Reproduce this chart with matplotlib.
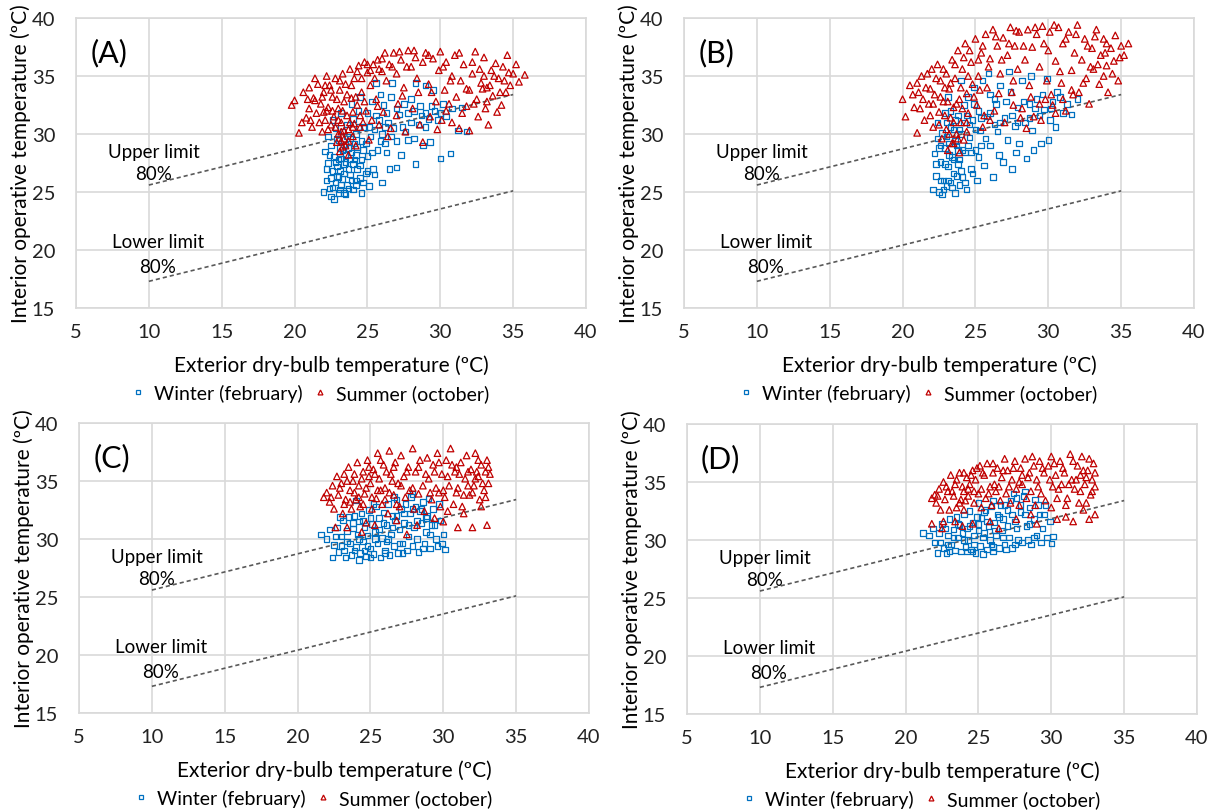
import numpy as np
import matplotlib
matplotlib.use("Agg")
import matplotlib.pyplot as plt
from matplotlib.lines import Line2D

plt.rcParams['font.family'] = ['Lato', 'DejaVu Sans']

# comfort limits (80% acceptability)
limit_x = [10, 35]
upper_y = [25.6, 33.4]
lower_y = [17.3, 25.1]

# (exterior, interior) points
a_winter = [(22.0,25.0),(22.1,28.5),(22.2,26.0),(22.3,27.5),(22.4,25.3),(22.5,24.6),(22.5,29.0),(22.6,26.8),(22.7,24.4),(22.7,28.0),(22.8,25.8),(22.9,27.2),(23.0,29.5),(23.0,26.3),(23.1,25.2),(23.1,28.8),(23.2,27.9),(23.3,30.2),(23.3,26.1),(23.4,24.9),(23.4,27.4),(23.5,29.1),(23.5,28.2),(23.6,25.6),(23.6,30.8),(23.7,27.0),(23.8,26.5),(23.8,29.6),(23.9,28.4),(24.0,25.2),(24.0,31.3),(24.1,27.8),(24.2,26.0),(24.2,30.0),(24.3,28.9),(24.4,32.0),(24.5,27.3),(24.6,29.4),(24.7,25.8),(24.8,30.6),(24.9,26.6),(25.0,31.8),(25.0,28.1),(25.1,25.5),(25.2,29.8),(25.3,32.8),(25.4,27.0),(25.5,30.4),(25.6,34.4),(25.7,28.6),(25.8,31.2),(26.0,25.8),(26.0,30.0),(26.1,32.5),(26.2,29.2),(26.4,31.0),(26.5,27.0),(26.6,33.2),(26.7,34.4),(26.8,30.5),(27.0,27.1),(27.0,29.4),(27.2,31.7),(27.3,28.2),(27.5,32.6),(27.6,30.2),(27.8,29.5),(28.0,31.0),(28.0,33.0),(28.2,29.6),(28.3,27.4),(28.3,34.4),(28.5,30.8),(28.7,31.6),(28.8,29.0),(29.0,34.2),(29.0,30.6),(29.2,31.3),(29.3,29.3),(29.5,33.8),(29.6,32.0),(29.8,31.2),(30.0,27.9),(30.0,31.8),(30.2,32.6),(30.4,31.5),(30.7,28.3),(30.8,32.2),(31.2,30.3),(31.5,32.3),(31.8,30.2),(23.2,31.8),(23.9,32.6),(24.5,33.2),(22.3,29.8),(22.8,30.5),(22.6,31.2),(23.5,24.8),(22.9,26.4),(24.6,24.9),(24.2,28.2),(25.5,26.5),(26.3,28.4),(25.9,33.4),
            (22.2,27.0),(22.4,28.2),(22.5,26.2),(22.6,25.4),(22.8,27.6),(22.9,29.6),(23.0,24.9),(23.0,27.8),(23.1,26.8),(23.2,25.6),(23.3,28.6),(23.4,26.6),(23.5,27.6),(23.6,29.8),(23.7,25.3),(23.7,28.8),(23.8,27.8),(23.9,26.0),(24.0,27.4),(24.1,29.2),(24.2,25.6),(24.3,27.0),(24.4,30.6),(24.5,26.2),(24.7,28.6),(24.9,29.2),(25.1,30.6),(25.3,28.4),(25.6,31.6),(25.9,29.4),(26.3,31.8),(26.6,29.8),(27.0,32.2),(27.4,30.6),(27.8,31.8),(28.2,32.0),(28.6,32.4),(29.0,31.8),(29.4,32.4),(26.2,30.6),(25.0,26.8),(24.6,27.8)]
a_summer = [(19.8,32.5),(20.0,32.9),(20.3,30.1),(20.6,33.6),(20.8,31.4),(21.0,32.2),(21.0,34.0),(21.2,30.6),(21.3,33.1),(21.5,31.8),(21.6,34.3),(21.8,32.6),(21.9,30.2),(22.0,33.6),(22.1,31.2),(22.2,35.0),(22.3,32.3),(22.4,34.2),(22.5,30.8),(22.6,33.2),(22.7,31.5),(22.8,34.8),(22.9,29.3),(23.0,32.2),(23.0,30.0),(23.1,28.5),(23.1,33.8),(23.2,29.4),(23.2,31.0),(23.3,35.2),(23.4,30.3),(23.4,32.8),(23.5,29.0),(23.5,34.3),(23.6,31.6),(23.7,30.4),(23.8,35.6),(23.9,33.1),(24.0,29.8),(24.0,31.9),(24.1,34.8),(24.3,32.5),(24.4,35.9),(24.5,30.6),(24.6,33.6),(24.8,36.2),(24.9,32.0),(25.0,35.3),(25.1,29.5),(25.2,34.2),(25.3,31.2),(25.4,36.0),(25.6,33.0),(25.8,35.6),(26.0,36.5),(26.1,31.9),(26.3,34.6),(26.5,36.0),(26.6,30.5),(26.8,37.0),(27.0,35.2),(27.1,32.6),(27.3,36.4),(27.5,34.0),(27.6,30.2),(27.8,37.2),(28.0,35.8),(28.1,32.2),(28.3,36.6),(28.5,33.6),(28.6,30.8),(28.8,36.2),(29.0,37.0),(29.2,34.3),(29.3,31.5),(29.5,36.5),(29.7,32.8),(29.9,35.5),(30.0,37.1),(30.1,31.2),(30.3,33.8),(30.4,36.2),(30.6,32.6),(30.8,35.0),(31.0,36.8),(31.1,33.2),(31.3,30.5),(31.4,34.6),(31.6,36.0),(31.8,32.4),(32.0,33.8),(32.0,30.3),(32.2,35.2),(32.4,37.1),(32.5,33.0),(32.6,31.5),(32.8,34.4),(33.0,36.6),(33.1,32.2),(33.2,34.0),(33.3,30.8),(33.5,35.5),(33.6,33.3),(33.8,36.1),(33.9,31.9),(34.0,34.8),(34.2,32.5),(34.3,35.8),(34.5,33.6),(34.6,36.8),(34.8,34.2),(35.0,35.2),(35.2,36.0),(35.4,34.5),(35.8,35.1),(24.2,29.0),(23.7,28.2),(24.7,31.0),(25.7,32.4),(26.4,29.8),(27.4,33.3),(28.4,34.8),(29.4,33.6),(30.7,34.6),(31.8,33.9),(32.9,33.9),(28.8,29.3),(30.4,32.0),(22.0,31.9),(21.4,32.9),
            (20.5,31.0),(20.9,33.0),(21.1,31.2),(21.4,34.8),(21.7,31.0),(21.9,33.2),(22.1,34.2),(22.2,32.0),(22.3,30.4),(22.5,33.8),(22.6,32.0),(22.8,30.6),(22.9,33.0),(23.0,31.2),(23.1,34.6),(23.2,30.2),(23.3,32.0),(23.4,29.6),(23.6,33.4),(23.7,29.4),(23.8,31.0),(23.9,34.2),(24.0,30.6),(24.2,33.2),(24.3,35.4),(24.5,31.6),(24.6,34.8),(24.8,32.8),(25.0,36.0),(25.2,35.5),(25.5,34.8),(25.7,36.4),(26.0,35.4),(26.2,37.0),(26.7,35.8),(27.2,37.1),(27.7,35.8),(28.2,37.2),(29.2,36.8),(30.2,35.8),(31.3,37.0),(32.2,36.2),(32.7,35.6),(33.0,35.0),(33.4,34.2),(33.7,35.0),(34.1,33.6),(34.4,34.6),(34.7,35.3),(33.2,32.8),(32.3,32.6),(31.5,31.8),(30.8,31.0),(29.8,30.4),(25.8,30.8),(27.0,31.6),(24.1,30.9),(23.3,28.9)]

b_winter = [(22.1,25.2),(22.2,28.3),(22.3,26.4),(22.4,29.6),(22.5,25.0),(22.6,27.6),(22.7,24.8),(22.7,30.1),(22.8,26.0),(22.9,28.8),(23.0,25.5),(23.0,31.0),(23.1,27.2),(23.2,29.2),(23.3,25.8),(23.3,32.0),(23.4,28.0),(23.5,26.6),(23.5,30.4),(23.6,24.9),(23.7,29.0),(23.8,27.4),(23.8,31.6),(23.9,25.6),(24.0,30.0),(24.1,26.3),(24.2,32.5),(24.3,28.4),(24.4,25.2),(24.5,33.2),(24.6,29.7),(24.7,27.0),(24.8,31.2),(24.9,34.0),(25.0,28.6),(25.1,26.0),(25.2,32.0),(25.3,30.3),(25.5,34.6),(25.6,27.3),(25.8,31.5),(26.0,33.4),(26.0,29.0),(26.2,26.3),(26.4,32.6),(26.5,30.2),(26.7,34.2),(26.9,27.6),(27.0,31.4),(27.2,29.5),(27.4,33.6),(27.5,27.0),(27.7,30.7),(27.9,32.3),(28.0,29.2),(28.2,34.6),(28.4,31.0),(28.5,27.9),(28.7,32.6),(28.9,30.3),(29.0,28.6),(29.2,33.0),(29.4,31.6),(29.5,29.2),(29.7,32.1),(29.9,34.8),(30.0,29.5),(30.1,31.2),(30.3,32.8),(30.5,30.6),(30.8,33.2),(31.0,31.8),(31.3,32.6),(31.6,31.7),(32.0,33.0),(22.4,31.0),(23.1,33.2),(24.0,34.6),(22.9,31.8),(24.4,31.6),(25.4,29.0),(26.6,28.2),(27.8,28.4),(26.3,30.8),(24.7,28.4),(23.9,27.8),(22.6,29.0),(25.9,35.2),(28.8,35.0),(27.3,35.4),
            (22.3,27.4),(22.5,28.8),(22.6,26.0),(22.8,25.2),(22.9,27.4),(23.0,29.8),(23.1,26.0),(23.2,28.2),(23.3,30.6),(23.4,25.4),(23.5,27.8),(23.6,29.4),(23.7,26.4),(23.8,28.6),(23.9,30.4),(24.0,26.8),(24.1,28.6),(24.2,31.0),(24.3,25.8),(24.5,29.0),(24.6,30.8),(24.8,26.6),(25.0,30.4),(25.2,28.0),(25.4,31.4),(25.7,29.6),(26.0,31.8),(26.3,33.0),(26.7,31.0),(27.1,32.8),(27.5,31.6),(27.9,31.0),(28.3,32.8),(28.7,31.4),(29.1,32.2),(29.6,33.4),(30.2,32.2),(30.6,33.6),(24.9,32.6),(23.6,31.2)]
b_summer = [(20.0,33.0),(20.2,31.5),(20.5,34.2),(20.8,32.3),(21.0,30.1),(21.1,33.6),(21.3,35.0),(21.5,31.2),(21.6,34.0),(21.8,32.6),(22.0,35.6),(22.1,30.6),(22.2,33.4),(22.4,36.0),(22.5,31.9),(22.6,34.6),(22.7,29.6),(22.8,32.8),(23.0,35.2),(23.0,30.4),(23.1,28.6),(23.2,33.9),(23.3,31.4),(23.4,36.4),(23.5,29.2),(23.5,32.3),(23.6,34.8),(23.7,30.0),(23.8,37.2),(23.9,33.0),(24.0,31.0),(24.1,35.6),(24.2,29.5),(24.3,37.8),(24.4,33.5),(24.5,31.8),(24.7,36.2),(24.8,34.3),(25.0,38.2),(25.1,32.5),(25.2,35.0),(25.4,37.0),(25.5,30.6),(25.7,38.6),(25.8,34.0),(26.0,36.5),(26.2,39.0),(26.3,32.0),(26.5,37.6),(26.7,35.2),(26.9,38.3),(27.0,31.0),(27.2,36.8),(27.4,39.2),(27.5,33.6),(27.7,37.6),(27.9,35.6),(28.0,38.8),(28.2,32.2),(28.4,36.4),(28.6,39.0),(28.7,34.2),(28.9,37.5),(29.0,31.5),(29.2,38.6),(29.4,35.8),(29.6,39.3),(29.8,33.0),(30.0,37.2),(30.1,38.8),(30.3,32.5),(30.5,36.3),(30.7,39.2),(30.9,34.4),(31.0,37.8),(31.2,32.0),(31.4,38.8),(31.6,35.5),(31.8,37.0),(32.0,39.4),(32.1,33.6),(32.3,36.4),(32.5,38.2),(32.6,34.8),(32.8,32.6),(33.0,37.4),(33.1,35.6),(33.3,39.0),(33.5,34.3),(33.6,36.8),(33.8,38.2),(34.0,35.9),(34.1,33.6),(34.3,37.4),(34.5,36.3),(34.6,38.5),(34.8,34.6),(35.0,37.6),(35.2,36.8),(35.5,37.8),(23.9,28.4),(24.4,30.2),(25.6,31.6),(26.6,33.5),(27.6,34.6),(28.8,33.2),(29.9,34.6),(30.8,35.4),(31.7,33.4),(32.9,35.8),(33.9,37.0),(28.5,30.5),(29.5,31.2),(30.5,31.8),(22.9,34.0),(21.9,33.9),
            (20.7,33.4),(21.0,34.4),(21.2,32.2),(21.4,33.0),(21.7,35.2),(21.9,31.6),(22.1,32.6),(22.3,34.8),(22.5,30.8),(22.6,33.2),(22.8,35.6),(22.9,31.6),(23.1,32.8),(23.2,30.0),(23.3,34.4),(23.4,29.2),(23.5,31.0),(23.6,36.0),(23.7,32.6),(23.8,29.6),(24.0,34.0),(24.1,32.2),(24.2,36.6),(24.4,31.0),(24.5,35.0),(24.6,37.2),(24.9,33.2),(25.2,36.4),(25.5,37.6),(25.9,35.8),(26.4,38.4),(26.8,36.4),(27.3,37.8),(27.8,38.9),(28.3,37.6),(29.1,39.2),(29.7,37.8),(30.4,39.4),(31.2,38.2),(31.9,38.6),(32.7,37.6),(33.2,38.4),(34.0,37.8),(34.4,35.2),(34.9,36.6),(33.8,35.0),(33.4,36.0),(32.4,34.4),(31.6,33.8),(31.0,33.0),(30.2,33.4),(29.4,32.6),(28.1,31.4),(27.6,32.5),(26.0,31.2),(25.3,33.8)]

c_winter = [(21.6,30.4),(22.0,30.0),(22.2,30.8),(22.4,28.4),(22.5,29.5),(22.7,31.0),(22.8,28.9),(23.0,30.2),(23.1,31.6),(23.2,29.0),(23.3,28.4),(23.4,30.7),(23.5,31.9),(23.6,29.6),(23.7,28.6),(23.8,30.9),(23.9,32.0),(24.0,29.3),(24.1,30.4),(24.2,31.5),(24.3,28.8),(24.4,32.2),(24.5,29.8),(24.6,31.0),(24.7,28.5),(24.8,30.3),(24.9,32.5),(25.0,29.2),(25.1,31.3),(25.2,28.7),(25.3,30.6),(25.4,32.8),(25.5,29.6),(25.6,31.8),(25.7,28.4),(25.8,30.1),(25.9,32.3),(26.0,29.0),(26.1,31.2),(26.2,33.0),(26.3,28.6),(26.4,30.4),(26.5,32.0),(26.6,29.4),(26.7,31.6),(26.8,33.4),(26.9,28.8),(27.0,30.8),(27.1,32.6),(27.2,29.6),(27.3,31.4),(27.4,33.0),(27.5,29.0),(27.6,30.2),(27.7,32.2),(27.8,33.6),(27.9,29.4),(28.0,31.0),(28.1,32.8),(28.2,30.0),(28.3,28.9),(28.4,32.4),(28.5,31.4),(28.6,33.2),(28.7,29.6),(28.8,30.6),(28.9,32.0),(29.0,33.5),(29.1,29.2),(29.2,31.2),(29.3,32.6),(29.5,30.0),(29.6,29.4),(29.7,33.0),(29.8,31.6),(29.9,29.6),(30.0,30.4),(30.1,29.1),(25.2,33.0),(24.0,33.3),(22.9,31.9),(26.6,33.6),(27.9,33.9),(24.6,29.0),(23.9,29.0),(26.1,29.8),
            (22.6,30.2),(23.0,29.4),(23.4,29.8),(23.8,31.4),(24.2,30.0),(24.5,31.6),(24.8,29.4),(25.0,31.8),(25.3,30.0),(25.6,30.8),(25.9,31.4),(26.2,30.0),(26.5,31.0),(26.8,32.0),(27.0,29.6),(27.3,32.2),(27.6,31.2),(27.9,32.6),(28.2,31.6),(28.5,32.6),(28.8,31.8),(29.1,30.4),(29.4,31.2),(26.0,28.8),(27.2,28.8),(28.6,29.2),(25.0,28.4),(24.2,28.2)]
c_summer = [(21.8,33.6),(22.0,34.0),(22.2,33.2),(22.4,34.6),(22.5,32.6),(22.7,35.4),(22.8,33.8),(23.0,34.8),(23.1,32.2),(23.2,35.6),(23.3,33.4),(23.5,36.2),(23.6,34.2),(23.7,32.6),(23.8,35.0),(24.0,33.4),(24.1,36.6),(24.2,34.6),(24.3,32.8),(24.5,35.8),(24.6,33.9),(24.7,31.4),(24.8,36.8),(25.0,34.8),(25.1,32.6),(25.2,36.0),(25.4,33.5),(25.5,37.4),(25.6,35.2),(25.8,33.0),(25.9,36.4),(26.0,34.4),(26.2,32.2),(26.3,37.6),(26.4,35.6),(26.6,33.8),(26.7,36.6),(26.9,34.8),(27.0,32.8),(27.1,37.2),(27.3,35.4),(27.4,33.6),(27.6,36.2),(27.7,34.2),(27.9,37.8),(28.0,32.6),(28.1,35.8),(28.3,33.9),(28.4,36.8),(28.6,34.6),(28.7,32.4),(28.9,37.0),(29.0,35.2),(29.2,33.4),(29.3,36.4),(29.5,34.4),(29.6,37.4),(29.8,32.8),(29.9,35.6),(30.0,31.5),(30.1,33.6),(30.2,36.8),(30.4,34.6),(30.5,37.8),(30.7,33.0),(30.8,35.8),(31.0,31.0),(31.0,34.4),(31.2,36.6),(31.3,32.8),(31.5,35.2),(31.6,37.2),(31.8,33.8),(31.9,36.0),(32.0,31.0),(32.1,34.6),(32.2,37.4),(32.4,35.4),(32.5,33.4),(32.6,36.4),(32.8,34.2),(32.9,35.8),(33.0,31.2),(33.0,36.8),(33.1,34.8),(33.2,35.6),(23.4,31.0),(24.4,30.6),(25.3,31.2),(26.8,31.6),(28.2,31.2),(29.4,31.8),(27.5,30.4),(22.6,31.0),(25.7,34.2),(26.5,35.0),(24.9,35.4),(23.9,34.0),(29.7,34.0),(30.9,36.2),(31.7,34.6),(32.3,35.8),
            (22.3,33.6),(22.9,34.4),(23.2,33.0),(23.4,35.0),(23.6,33.2),(23.9,35.6),(24.2,33.6),(24.4,35.2),(24.5,33.0),(24.7,34.4),(24.9,36.2),(25.1,33.6),(25.3,35.6),(25.5,34.2),(25.7,36.8),(26.0,33.4),(26.1,35.8),(26.3,34.0),(26.6,36.2),(26.8,33.0),(27.1,34.6),(27.5,35.8),(27.9,34.4),(28.3,36.2),(28.8,35.6),(29.1,34.0),(29.4,35.8),(29.7,36.6),(30.0,34.2),(30.3,35.4),(30.6,36.4),(30.9,34.0),(31.1,35.6),(31.4,33.8),(31.7,35.8),(32.0,34.0),(32.2,35.2),(32.4,36.8),(32.7,34.8),(32.9,33.6),(33.1,36.2),(30.3,32.4),(31.4,32.2),(32.6,32.8)]

d_winter = [(21.2,30.6),(21.6,30.4),(21.9,31.0),(22.0,29.8),(22.2,28.9),(22.3,30.6),(22.5,31.4),(22.6,29.3),(22.8,28.9),(22.9,30.4),(23.0,31.8),(23.1,29.6),(23.3,30.9),(23.4,29.1),(23.5,32.0),(23.6,30.2),(23.7,31.3),(23.8,29.0),(23.9,30.6),(24.0,32.2),(24.1,29.4),(24.2,31.0),(24.3,30.0),(24.4,32.5),(24.5,29.2),(24.6,31.5),(24.7,30.4),(24.8,28.9),(24.9,32.0),(25.0,30.8),(25.1,29.5),(25.2,31.9),(25.3,28.8),(25.4,30.6),(25.5,32.6),(25.6,29.2),(25.7,31.2),(25.8,30.0),(25.9,32.9),(26.0,29.0),(26.1,31.5),(26.2,30.4),(26.3,32.2),(26.4,29.3),(26.5,33.0),(26.6,30.8),(26.7,31.8),(26.8,29.6),(27.0,32.6),(27.1,30.2),(27.2,33.4),(27.3,29.3),(27.5,31.6),(27.6,33.6),(27.7,30.0),(27.9,32.4),(28.0,29.8),(28.1,33.8),(28.3,31.2),(28.4,30.0),(28.5,32.8),(28.6,29.6),(28.8,31.8),(28.9,33.5),(29.0,30.4),(29.2,32.2),(29.3,29.8),(29.4,31.0),(29.6,33.0),(29.7,30.2),(29.9,31.6),(30.0,29.7),(30.1,30.3),(23.0,29.0),(24.2,29.0),(26.0,33.4),(27.4,34.0),(25.0,33.2),(22.7,31.0),(26.9,29.2),(28.2,34.2),
            (22.4,29.8),(22.9,29.6),(23.3,30.2),(23.6,31.4),(24.0,30.0),(24.4,31.2),(24.7,29.6),(25.0,31.4),(25.3,30.2),(25.6,31.6),(25.9,29.6),(26.1,30.8),(26.4,32.0),(26.7,30.2),(27.0,31.2),(27.3,32.2),(27.6,31.0),(27.9,33.0),(28.2,32.2),(28.5,31.4),(28.8,30.2),(29.1,33.0),(29.5,32.2),(24.6,29.0),(26.0,29.4),(27.5,29.6),(25.4,32.4),(26.8,33.0)]
d_summer = [(21.8,33.6),(22.0,33.9),(22.1,33.2),(22.3,34.4),(22.4,32.6),(22.6,35.0),(22.7,33.5),(22.9,34.2),(23.0,32.6),(23.1,35.6),(23.3,33.8),(23.4,34.8),(23.5,32.8),(23.7,35.8),(23.8,33.5),(23.9,34.6),(24.0,32.6),(24.2,35.4),(24.3,33.8),(24.4,34.8),(24.6,36.0),(24.7,33.2),(24.8,35.2),(25.0,34.0),(25.1,36.4),(25.2,32.8),(25.4,35.6),(25.5,33.6),(25.6,36.6),(25.8,34.6),(25.9,33.0),(26.0,35.8),(26.2,34.2),(26.3,36.2),(26.5,33.4),(26.6,35.4),(26.8,37.0),(26.9,34.0),(27.0,36.0),(27.2,33.2),(27.3,35.2),(27.5,36.8),(27.6,34.4),(27.8,33.0),(27.9,36.2),(28.0,34.8),(28.2,37.0),(28.3,33.6),(28.5,35.8),(28.6,34.2),(28.8,36.4),(28.9,33.0),(29.0,35.2),(29.2,36.8),(29.3,34.0),(29.5,35.8),(29.6,33.4),(29.8,36.4),(30.0,37.2),(30.1,34.6),(30.3,35.6),(30.4,33.6),(30.6,36.8),(30.7,34.8),(30.9,35.8),(31.0,32.0),(31.1,33.6),(31.3,37.4),(31.4,35.2),(31.5,31.6),(31.6,34.4),(31.8,36.4),(31.9,33.2),(32.0,35.6),(32.1,37.2),(32.2,32.6),(32.3,34.8),(32.5,36.0),(32.6,31.8),(32.7,33.9),(32.8,35.2),(32.9,36.6),(33.0,34.6),(33.0,32.2),(21.8,31.4),(22.5,31.0),(23.4,31.6),(24.6,31.4),(25.8,31.6),(26.4,31.0),(27.6,31.8),(28.6,32.2),(30.4,31.8),(29.0,31.4),(24.0,34.2),(26.1,34.8),(28.0,35.6),
            (22.2,33.8),(22.8,34.6),(23.2,34.2),(23.5,35.2),(23.7,33.2),(24.0,35.8),(24.1,33.4),(24.3,34.4),(24.5,35.6),(24.7,34.2),(24.9,36.2),(25.2,34.4),(25.3,35.8),(25.7,34.0),(26.0,36.6),(26.4,34.6),(26.7,36.0),(27.1,34.6),(27.4,36.2),(27.8,35.0),(28.4,35.4),(28.7,37.2),(29.1,34.6),(29.4,36.2),(29.9,35.2),(30.2,36.6),(30.5,34.4),(30.8,36.2),(31.2,34.8),(31.5,36.8),(31.7,35.2),(32.0,34.2),(32.2,36.0),(32.4,35.4),(32.6,37.0),(32.8,34.2),(33.0,35.8),(31.0,33.0),(32.4,33.2),(30.0,32.8),(22.6,31.6),(23.9,31.2)]

panel_labels = ['(A)', '(B)', '(C)', '(D)']

BLUE = '#0070C0'
RED = '#C00000'
GRID = '#D9D9D9'


def draw_panel(ax, winter, summer, label):
    w = np.array(winter)
    s = np.array(summer)
    ax.plot(limit_x, upper_y, ls=(0, (2.5, 1.8)), color='#595959', lw=1.2, zorder=2)
    ax.plot(limit_x, lower_y, ls=(0, (2.5, 1.8)), color='#595959', lw=1.2, zorder=2)
    ax.scatter(w[:, 0], w[:, 1], marker='s', s=16, facecolors='none',
               edgecolors=BLUE, linewidths=0.9, zorder=3)
    ax.scatter(s[:, 0], s[:, 1], marker='^', s=22, facecolors='none',
               edgecolors=RED, linewidths=0.9, zorder=4)

    ax.set_xlim(5, 40)
    ax.set_ylim(15, 40)
    ax.set_xticks(range(5, 41, 5))
    ax.set_yticks(range(15, 41, 5))
    ax.grid(True, color=GRID, lw=1.2)
    ax.set_axisbelow(True)
    for sp in ax.spines.values():
        sp.set_color(GRID)
        sp.set_linewidth(1.2)
    ax.tick_params(length=0, labelsize=14.5, colors='#222222')
    ax.tick_params(axis='x', pad=11)
    ax.tick_params(axis='y', pad=15)

    ax.set_xlabel('Exterior dry-bulb temperature (ºC)', fontsize=15)
    ax.set_ylabel('Interior operative temperature (ºC)', fontsize=15)
    ax.xaxis.set_label_coords(0.5, -0.16)
    ax.yaxis.set_label_coords(-0.089, 0.5)

    ax.text(10.35, 28.5, 'Upper limit', fontsize=13.5, ha='center', va='center')
    ax.text(10.35, 26.6, '80%', fontsize=13.5, ha='center', va='center')
    ax.text(10.6, 20.7, 'Lower limit', fontsize=13.5, ha='center', va='center')
    ax.text(10.6, 18.6, '80%', fontsize=13.5, ha='center', va='center')
    ax.text(7.26, 37.1, label, fontsize=22, ha='center', va='center')

    handles = [
        Line2D([], [], ls='none', marker='s', ms=3.5, mfc='none', mec=BLUE, mew=0.9),
        Line2D([], [], ls='none', marker='^', ms=3.5, mfc='none', mec=RED, mew=0.9),
    ]
    ax.legend(handles, ['Winter (february)', 'Summer (october)'],
              loc='center', bbox_to_anchor=(0.46, -0.293), ncol=2, frameon=False,
              fontsize=14, handlelength=0.6, handletextpad=0.5, columnspacing=0.6,
              borderpad=0, borderaxespad=0)


fig = plt.figure(figsize=(12.17, 8.12), dpi=100)
# axes boxes in pixels: left, top, right, bottom
boxes = [(76, 19, 586, 309), (684, 19, 1194, 309), (79, 424, 589, 714), (687, 425, 1197, 715)]
data = [(a_winter, a_summer), (b_winter, b_summer), (c_winter, c_summer), (d_winter, d_summer)]

for (l, t, r, b), (w, s), lab in zip(boxes, data, panel_labels):
    ax = fig.add_axes([l / 1217, 1 - b / 812, (r - l) / 1217, (b - t) / 812])
    draw_panel(ax, w, s, lab)

fig.savefig('out.png', dpi=100)
